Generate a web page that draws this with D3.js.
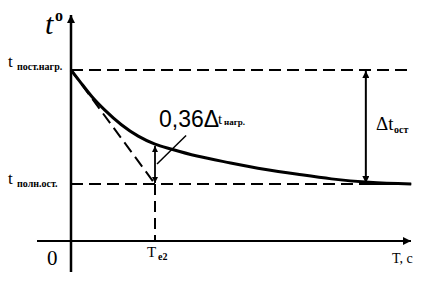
<!DOCTYPE html>
<html><head><meta charset="utf-8">
<script src="https://cdn.jsdelivr.net/npm/d3@7"></script>
<style>body{margin:0;background:#fff}svg{display:block}</style>
</head><body>
<svg id="c" width="433" height="281"></svg>
<script>
// data (time in units of Te2, temperature in relative units)
const curveTime = [0, 0.1, 0.25, 0.4, 0.6, 0.8, 1, 1.2, 1.5, 1.9, 2.3, 2.7, 3.1, 3.55, 4.05];
const curveTemp = [3, 2.81, 2.53, 2.30, 2.04, 1.84, 1.70, 1.61, 1.49, 1.37, 1.26, 1.17, 1.09, 1.03, 1.0];
const tempStart = 3;     // t пост.нагр.
const tempFull = 1;      // t полн.ост.
const timeTe2 = 1;       // Te2
const timeEnd = 4.05;
const timeArrowDt = 3.51; // position of Δt ост arrow
const labels = ["t", "пост.нагр.", "полн.ост.", "0", "T", "e2", "T, c", "0,36Δ", "нагр.", "Δt", "ост"];

const svg = d3.select("#c");
const x = d3.scaleLinear().domain([0, 1]).range([71, 155]);
const y = d3.scaleLinear().domain([1, 3]).range([184, 70]);
const serif = "'Liberation Serif','DejaVu Serif',serif";

const defs = svg.append("defs");
function marker(id, w, h) {
  defs.append("marker").attr("id", id).attr("viewBox", "0 0 10 10")
    .attr("refX", 10).attr("refY", 5).attr("markerWidth", w).attr("markerHeight", h)
    .attr("markerUnits", "userSpaceOnUse").attr("orient", "auto-start-reverse")
    .append("path").attr("d", "M0,0 L10,5 L0,10 z").attr("fill", "#000");
}
marker("ax", 13, 8);
marker("ar", 11, 7);
marker("sm", 9, 6);

// axes
svg.append("line").attr("x1", x(0)).attr("y1", 272).attr("x2", x(0)).attr("y2", 15)
  .attr("stroke", "#000").attr("stroke-width", 2.5).attr("marker-end", "url(#ax)");
svg.append("line").attr("x1", 37).attr("y1", y(0)).attr("x2", 411).attr("y2", y(0))
  .attr("stroke", "#000").attr("stroke-width", 2).attr("marker-end", "url(#ax)");

const dash = "12,6";
// horizontal dashed lines
svg.append("line").attr("x1", x(0)).attr("x2", x(timeEnd)).attr("y1", y(tempStart)).attr("y2", y(tempStart))
  .attr("stroke", "#000").attr("stroke-width", 2).attr("stroke-dasharray", dash);
svg.append("line").attr("x1", x(0)).attr("x2", x(timeEnd)).attr("y1", y(tempFull)).attr("y2", y(tempFull))
  .attr("stroke", "#000").attr("stroke-width", 2).attr("stroke-dasharray", dash);
// tangent
svg.append("line").attr("x1", x(0)).attr("y1", y(tempStart)).attr("x2", x(timeTe2)).attr("y2", y(tempFull))
  .attr("stroke", "#000").attr("stroke-width", 2).attr("stroke-dasharray", "12,6");
// vertical Te2 dashed
svg.append("line").attr("x1", x(timeTe2)).attr("x2", x(timeTe2)).attr("y1", y(tempFull)).attr("y2", y(0))
  .attr("stroke", "#000").attr("stroke-width", 2).attr("stroke-dasharray", "11,6");

// curve
const pts = curveTime.map((t, i) => [t, curveTemp[i]]);
svg.append("path").datum(pts)
  .attr("d", d3.line().x(d => x(d[0])).y(d => y(d[1])).curve(d3.curveMonotoneX))
  .attr("fill", "none").attr("stroke", "#000").attr("stroke-width", 3);

// solid end of asymptote
svg.append("line").attr("x1", x(3.5)).attr("x2", x(timeEnd)).attr("y1", y(tempFull)).attr("y2", y(tempFull))
  .attr("stroke", "#000").attr("stroke-width", 2.2);

// small double arrow at Te2
const yAtTe2 = curveTemp[curveTime.indexOf(timeTe2)];
svg.append("line").attr("x1", x(timeTe2)).attr("x2", x(timeTe2)).attr("y1", y(tempFull) - 1).attr("y2", y(yAtTe2) + 2)
  .attr("stroke", "#000").attr("stroke-width", 1.8)
  .attr("marker-start", "url(#sm)").attr("marker-end", "url(#sm)");
// pointer line
svg.append("line").attr("x1", x(timeTe2) + 2).attr("y1", y(1.35)).attr("x2", x(1.37)).attr("y2", y(1.85))
  .attr("stroke", "#000").attr("stroke-width", 1.5);

// Δt ост double arrow
svg.append("line").attr("x1", x(timeArrowDt)).attr("x2", x(timeArrowDt)).attr("y1", y(tempFull) - 1).attr("y2", y(tempStart) + 1)
  .attr("stroke", "#000").attr("stroke-width", 2)
  .attr("marker-start", "url(#ar)").attr("marker-end", "url(#ar)");

// texts
function txt(xp, yp, s, size, opts = {}) {
  return svg.append("text").attr("x", xp).attr("y", yp).text(s)
    .attr("font-family", opts.family || serif).attr("font-size", size)
    .attr("font-weight", opts.weight || "normal").attr("font-style", opts.style || "normal")
    .attr("fill", "#000");
}
// t°
txt(45, 34, labels[0], 30, {style: "italic"});
txt(55, 21, "o", 16, {weight: "bold"});
// t пост.нагр.
txt(8, 67, labels[0], 17);
txt(17, 70, labels[1], 10, {weight: "bold"});
// t полн.ост.
txt(8, 184, labels[0], 17);
txt(17, 187, labels[2], 10, {weight: "bold"});
// 0
txt(47, 265, labels[3], 21);
// Te2
txt(147, 257, labels[4], 15);
txt(158, 260, labels[5], 10, {weight: "bold"});
// T, c
txt(392, 263, labels[6], 14);
// 0,36Δt нагр.
txt(159, 127, labels[7], 23, {family: "'Liberation Sans','DejaVu Sans',sans-serif"});
txt(218, 124, labels[0], 15);
txt(224, 125, labels[8], 9, {weight: "bold"});
// Δt ост
txt(376, 130, labels[9], 19);
txt(394, 133, labels[10], 10, {weight: "bold"});
</script>
</body></html>
